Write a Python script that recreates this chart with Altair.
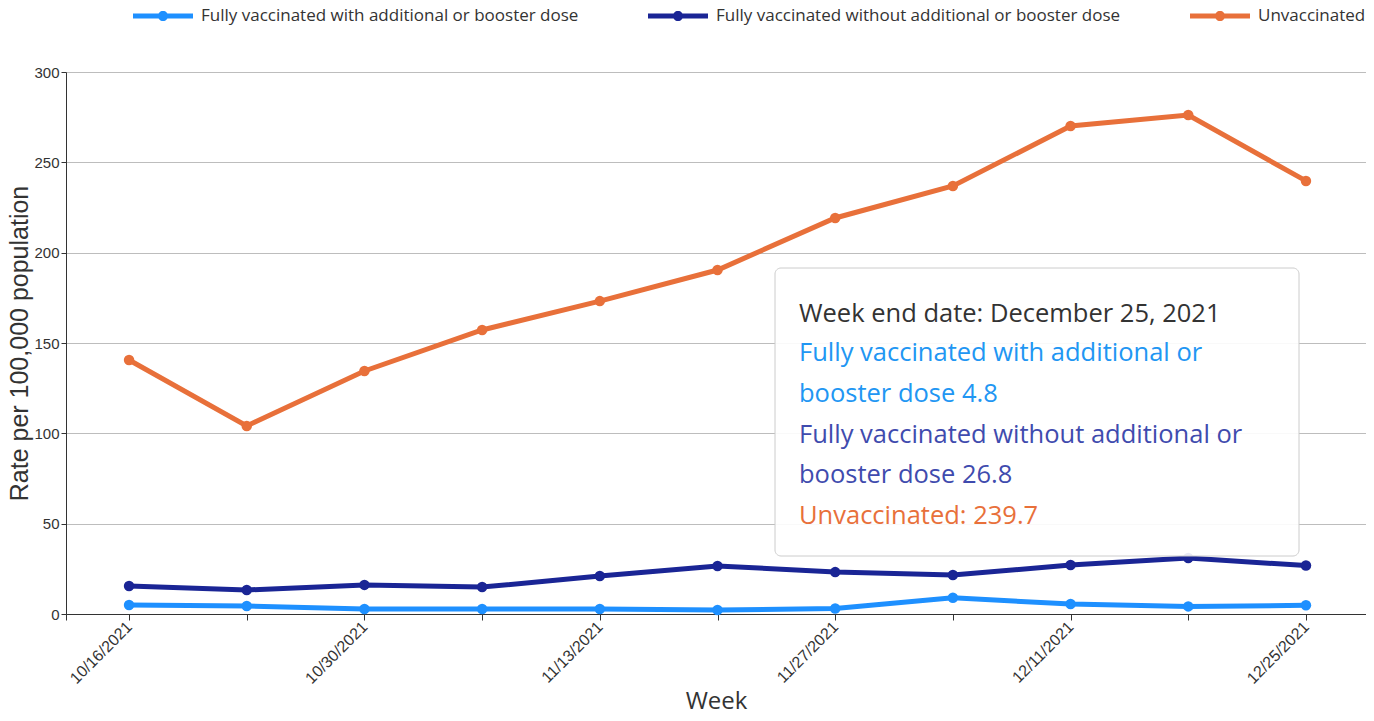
import math
import altair as alt
import pandas as pd

# ---- data ----
weeks = ["2021-10-16", "2021-10-23", "2021-10-30", "2021-11-06", "2021-11-13", "2021-11-20",
         "2021-11-27", "2021-12-04", "2021-12-11", "2021-12-18", "2021-12-25"]
series_names = ["Fully vaccinated with additional or booster dose",
                "Fully vaccinated without additional or booster dose",
                "Unvaccinated"]
boosted = [5.0, 4.4, 2.8, 2.8, 2.8, 2.2, 3.0, 9.0, 5.5, 4.2, 4.8]
no_booster = [15.5, 13.3, 16.1, 14.9, 21.0, 26.6, 23.2, 21.6, 27.1, 31.0, 26.8]
unvaccinated = [140.6, 104.1, 134.5, 157.2, 173.2, 190.4, 219.2, 236.9, 270.1, 276.2, 239.7]
y_ticks = [0, 50, 100, 150, 200, 250, 300]

line_colors = ["#1E90FF", "#1A2595", "#E8703A"]
tip_colors = ["#2196F3", "#3F4BAE", "#E8703A"]

rows = []
for name, vals in zip(series_names, [boosted, no_booster, unvaccinated]):
    for w, v in zip(weeks, vals):
        rows.append({"week": w, "series": name, "line_series": name, "rate": v})
df = pd.DataFrame(rows)

def dt(s, hours=0, minutes=0):
    y, m, d = (int(p) for p in s.split("-"))
    return alt.DateTime(year=y, month=m, date=d, hours=hours, minutes=minutes, utc=True)

x_start = alt.DateTime(year=2021, month=10, date=12, hours=6, utc=True)
x_end = alt.DateTime(year=2021, month=12, date=28, hours=13, minutes=42, utc=True)
x_values = [x_start] + [dt(w) for w in weeks] + [x_end]

label_expr = ("(round((datum.value - utc(2021,9,16))/864e5) % 14 == 0) "
              "? utcFormat(datum.value, '%m/%d/%Y') : ''")

x_enc = alt.X("week:T",
              scale=alt.Scale(type="utc", domain=[x_start, x_end]),
              axis=alt.Axis(values=x_values, labelExpr=label_expr, labelAngle=-45,
                            labelAlign="right", labelBaseline="middle", labelPadding=4,
                            labelFontSize=16,
                            tickSize=6, grid=False, labelOverlap=False, labelFlush=False,
                            title="Week", titleFont="Open Sans", titleFontSize=24,
                            titleBaseline="alphabetic", titleY=94))
y_enc = alt.Y("rate:Q",
              scale=alt.Scale(domain=[0, 300], nice=False),
              axis=alt.Axis(values=y_ticks, grid=True, gridColor="#bdbdbd", tickSize=5,
                            labelPadding=2, labelFontSize=15,
                            title="Rate per 100,000 population",
                            titleFont="Liberation Sans", titleFontSize=25, titlePadding=1))

# legend symbol: a thick line segment with a dot in the middle (polygons only)
_circle = [(0.17 * math.cos(2 * math.pi * k / 24), 0.17 * math.sin(2 * math.pi * k / 24))
           for k in range(24)]
legend_symbol = ("M-1,-0.085L1,-0.085L1,0.085L-1,0.085Z M"
                 + "L".join(f"{px:.4f},{py:.4f}" for px, py in _circle) + "Z")

base = alt.Chart(df)
lines = base.mark_line(strokeWidth=5).encode(
    x=x_enc, y=y_enc,
    # data-driven domain (sorted order equals series_names order)
    stroke=alt.Stroke("line_series:N", scale=alt.Scale(range=line_colors), legend=None),
    detail="line_series:N",
)
points = base.mark_point(filled=True, size=110, opacity=1).encode(
    x=x_enc, y=y_enc,
    fill=alt.Fill("series:N", scale=alt.Scale(domain=series_names, range=line_colors),
                  legend=alt.Legend(orient="none", legendX=67, legendY=-86,
                                    direction="horizontal", columnPadding=69,
                                    symbolType=legend_symbol, symbolSize=3600,
                                    symbolStrokeWidth=0, labelFont="Open Sans",
                                    labelFontSize=17, labelColor="#333",
                                    labelOffset=8, labelLimit=1000, title=None,
                                    padding=0)),
)

# ---- tooltip overlay (as in the screenshot) ----
one = pd.DataFrame({"k": [0]})
tip_box = alt.Chart(one).mark_rect(cornerRadius=6, fill="white", fillOpacity=0.9,
                                   stroke="#cccccc", strokeWidth=1).encode(
    x=alt.value(709), x2=alt.value(1233), y=alt.value(196), y2=alt.value(484))

last = -1
def split_name(name):
    i = name.find(" booster")
    return (name[:i], name[i + 1:]) if i > 0 else (name, "")

tip_lines = [("Week end date: December 25, 2021", "#333333")]
a, b = split_name(series_names[0])
tip_lines += [(a, tip_colors[0]), (f"{b} {boosted[last]}", tip_colors[0])]
a, b = split_name(series_names[1])
tip_lines += [(a, tip_colors[1]), (f"{b} {no_booster[last]}", tip_colors[1])]
tip_lines += [(f"{series_names[2]}: {unvaccinated[last]}", tip_colors[2])]
baselines = [250, 289, 330, 371, 411, 452]

tip_texts = []
for (t, c), yb in zip(tip_lines, baselines):
    tip_texts.append(alt.Chart(one).mark_text(align="left", baseline="alphabetic",
                                              font="Open Sans", fontSize=25.5, color=c).encode(
        x=alt.value(733), y=alt.value(yb), text=alt.value(t)))

chart = alt.layer(lines, points, tip_box, *tip_texts).properties(
    width=1300, height=542,
    autosize=alt.AutoSizeParams(type="none"),
    padding={"left": 58, "top": 64, "right": 0, "bottom": 99},
).configure_view(stroke=None).configure_axis(
    labelFont="Liberation Sans", labelColor="#333333",
    titleFontWeight="normal", titleColor="#333333",
    domainColor="#333333", tickColor="#333333")

chart.save("out.html", embed_options={"renderer": "svg", "actions": False})
